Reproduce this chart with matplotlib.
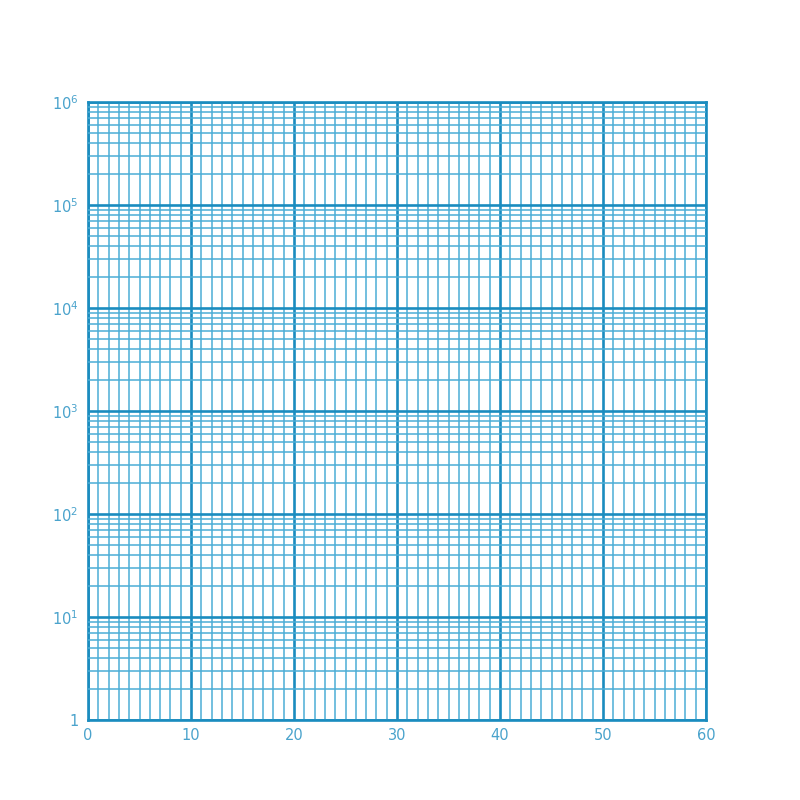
import matplotlib
matplotlib.use("Agg")
import matplotlib.pyplot as plt
from matplotlib.ticker import FixedLocator, MultipleLocator, LogLocator, NullFormatter

x_ticks = [0, 10, 20, 30, 40, 50, 60]
y_ticks = [1, 10, 100, 1000, 10000, 100000, 1000000]
y_labels = ["1", "$10^{1}$", "$10^{2}$", "$10^{3}$", "$10^{4}$", "$10^{5}$", "$10^{6}$"]

major_c = "#1a8cbf"
minor_c = "#4badd6"
text_c = "#4aa3cc"

fig = plt.figure(figsize=(8, 8), dpi=100)
ax = fig.add_axes([0.11, 0.1, 0.7725, 0.7725])
ax.set_xlim(x_ticks[0], x_ticks[-1])
ax.set_yscale("log")
ax.set_ylim(y_ticks[0], y_ticks[-1])

ax.xaxis.set_major_locator(FixedLocator(x_ticks))
ax.xaxis.set_minor_locator(MultipleLocator(1))
ax.set_xticklabels([str(v) for v in x_ticks])
ax.yaxis.set_major_locator(FixedLocator(y_ticks))
ax.yaxis.set_minor_locator(LogLocator(base=10, subs=range(2, 10), numticks=20))
ax.yaxis.set_minor_formatter(NullFormatter())
ax.set_yticklabels(y_labels)

ax.grid(which="major", color=major_c, linewidth=1.9)
ax.grid(which="minor", color=minor_c, linewidth=1.1)
ax.set_axisbelow(False)
for s in ax.spines.values():
    s.set_color(major_c)
    s.set_linewidth(1.9)

ax.tick_params(which="both", length=0, colors=text_c, labelsize=10.5)
ax.tick_params(axis="y", pad=7)
ax.tick_params(axis="x", pad=6)

fig.savefig("out.png", dpi=100, facecolor="white")
